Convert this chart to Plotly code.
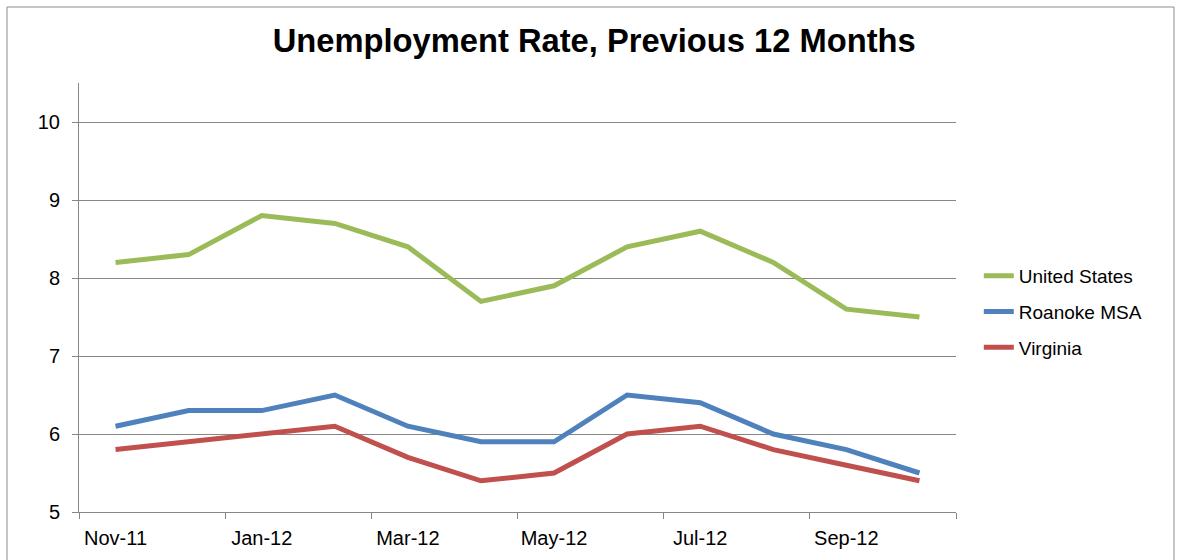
import plotly.graph_objects as go

# Monthly unemployment rates (%), Nov 2011 - Oct 2012
months = ["Nov-11", "Dec-11", "Jan-12", "Feb-12", "Mar-12", "Apr-12",
          "May-12", "Jun-12", "Jul-12", "Aug-12", "Sep-12", "Oct-12"]
united_states = [8.2, 8.3, 8.8, 8.7, 8.4, 7.7, 7.9, 8.4, 8.6, 8.2, 7.6, 7.5]
roanoke_msa = [6.1, 6.3, 6.3, 6.5, 6.1, 5.9, 5.9, 6.5, 6.4, 6.0, 5.8, 5.5]
virginia = [5.8, 5.9, 6.0, 6.1, 5.7, 5.4, 5.5, 6.0, 6.1, 5.8, 5.6, 5.4]

series = [
    ("United States", united_states, "#9BBB59"),
    ("Roanoke MSA", roanoke_msa, "#4F81BD"),
    ("Virginia", virginia, "#C0504D"),
]

idx = list(range(len(months)))
label_pos = idx[::2]
label_txt = months[::2]
boundaries = [i - 0.5 for i in range(0, len(months) + 1, 2)]

FONT = "Liberation Sans, Arial, sans-serif"
GRID = "#868686"

fig = go.Figure()
for name, vals, color in series:
    fig.add_trace(go.Scatter(
        x=idx, y=vals, name=name, mode="lines",
        line=dict(color=color, width=5),
        legendgroup=name,
    ))

# invisible trace carrying the boundary tick marks
fig.add_trace(go.Scatter(x=[idx[0]], y=[None], xaxis="x2", showlegend=False,
                         hoverinfo="skip"))

fig.update_layout(
    width=1179, height=560,
    margin=dict(l=79, r=223, t=83, b=48),
    paper_bgcolor="white", plot_bgcolor="white",
    font=dict(family=FONT, size=20, color="#000000"),
    title=dict(
        text="<b>Unemployment Rate, Previous 12 Months</b>",
        font=dict(family=FONT, size=32.7, color="#000000"),
        x=0.504, xref="container", xanchor="center",
        y=1 - 41 / 560, yref="container", yanchor="middle",
    ),
    xaxis=dict(
        range=[-0.5, len(months) - 0.5],
        tickmode="array", tickvals=label_pos, ticktext=label_txt,
        ticks="", showgrid=False, zeroline=False,
        showline=True, linecolor=GRID, linewidth=1,
        tickfont=dict(size=20), ticklabelstandoff=8,
        fixedrange=True,
    ),
    xaxis2=dict(
        range=[-0.5, len(months) - 0.5], overlaying="x", anchor="y",
        tickmode="array", tickvals=boundaries, ticktext=[""] * len(boundaries),
        ticks="outside", ticklen=6, tickcolor=GRID, tickwidth=1,
        showgrid=False, zeroline=False, showline=False, side="bottom",
    ),
    yaxis=dict(
        range=[5, 10.5], tickmode="array", tickvals=[5, 6, 7, 8, 9, 10],
        ticks="outside", ticklen=6, tickcolor=GRID,
        showgrid=True, gridcolor=GRID, gridwidth=1,
        zeroline=False, showline=True, linecolor=GRID, linewidth=1,
        tickfont=dict(size=20), ticklabelstandoff=8,
    ),
    legend=dict(
        x=1.026, xanchor="left", y=(560 - 48 - 257) / (560 - 83 - 48),
        yanchor="top", font=dict(size=19),
        tracegroupgap=8, traceorder="grouped",
        bgcolor="rgba(0,0,0,0)",
    ),
    shapes=[dict(type="rect", xref="paper", yref="paper",
                 x0=(7 - 79) / 877, x1=(1174 - 79) / 877,
                 y0=-0.2, y1=(560 - 48 - 7) / 429,
                 line=dict(color="#8C8C8C", width=1), layer="below")],
    showlegend=True,
)

fig.write_html("out.html")
